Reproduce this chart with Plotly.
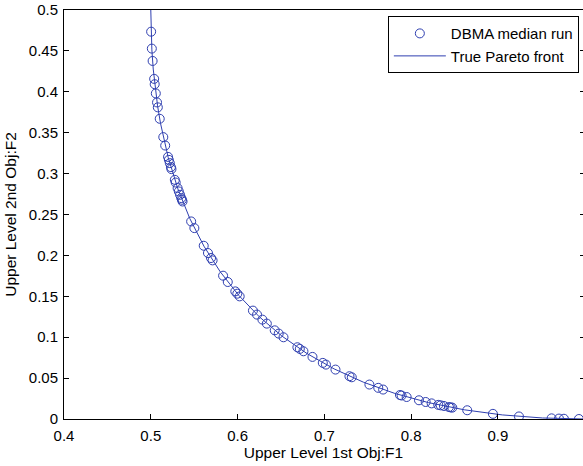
import plotly.graph_objects as go

# DBMA median run
dbma_f1 = [0.5004, 0.5012, 0.5021, 0.5039, 0.5045, 0.5058, 0.5072, 0.5081, 0.5103, 0.5144,
           0.5166, 0.5199, 0.5208, 0.5219, 0.5232, 0.5238, 0.5277, 0.5287, 0.5309, 0.5323,
           0.5337, 0.5351, 0.5359, 0.5366, 0.5465, 0.5502, 0.5610, 0.5659, 0.5694, 0.5712,
           0.5833, 0.5887, 0.5974, 0.5997, 0.6024, 0.6177, 0.6224, 0.6286, 0.6337, 0.6428,
           0.6474, 0.6529, 0.6689, 0.6717, 0.6759, 0.6863, 0.6982, 0.7018, 0.7128, 0.7289,
           0.7316, 0.7519, 0.7621, 0.7677, 0.7871, 0.7890, 0.7948, 0.8090, 0.8167, 0.8236,
           0.8312, 0.8340, 0.8378, 0.8435, 0.8455, 0.8474, 0.8646, 0.8942, 0.9242, 0.9618,
           0.9703, 0.9760, 0.9933]
dbma_f2 = [0.4735, 0.4528, 0.4377, 0.4158, 0.4093, 0.3980, 0.3870, 0.3810, 0.3670, 0.3446,
           0.3343, 0.3204, 0.3168, 0.3128, 0.3079, 0.3055, 0.2924, 0.2891, 0.2823, 0.2782,
           0.2741, 0.2701, 0.2680, 0.2659, 0.2415, 0.2334, 0.2118, 0.2029, 0.1968, 0.1939,
           0.1752, 0.1675, 0.1560, 0.1532, 0.1499, 0.1325, 0.1276, 0.1215, 0.1166, 0.1084,
           0.1044, 0.0999, 0.0877, 0.0857, 0.0828, 0.0759, 0.0686, 0.0665, 0.0604, 0.0523,
           0.0510, 0.0421, 0.0381, 0.0360, 0.0293, 0.0287, 0.0269, 0.0229, 0.0208, 0.0191,
           0.0173, 0.0167, 0.0159, 0.0146, 0.0142, 0.0139, 0.0107, 0.0063, 0.0031, 0.0008,
           0.0005, 0.0003, 0.0000]

# True Pareto front
front_f1 = [0.5, 0.5002, 0.50125, 0.50281, 0.505, 0.50781, 0.51125, 0.51531, 0.52, 0.53125,
            0.545, 0.56125, 0.58, 0.60125, 0.625, 0.65125, 0.68, 0.71125, 0.745, 0.78125,
            0.82, 0.86125, 0.905, 0.95125, 1.0]
front_f2 = [0.5, 0.4802, 0.45125, 0.42781, 0.405, 0.38281, 0.36125, 0.34031, 0.32, 0.28125,
            0.245, 0.21125, 0.18, 0.15125, 0.125, 0.10125, 0.08, 0.06125, 0.045, 0.03125,
            0.02, 0.01125, 0.005, 0.00125, 0.0]

x_ticks = [0.4, 0.5, 0.6, 0.7, 0.8, 0.9, 1.0]
x_ticktext = ["0.4", "0.5", "0.6", "0.7", "0.8", "0.9", "1"]
y_ticks = [0, 0.05, 0.1, 0.15, 0.2, 0.25, 0.3, 0.35, 0.4, 0.45, 0.5]
y_ticktext = ["0", "0.05", "0.1", "0.15", "0.2", "0.25", "0.3", "0.35", "0.4", "0.45", "0.5"]

blue = "#2f3fb0"
font = "Liberation Sans, Arial, sans-serif"

fig = go.Figure()
fig.add_trace(go.Scatter(x=dbma_f1, y=dbma_f2, mode="markers", name="DBMA median run",
                         marker=dict(symbol="circle-open", size=9, color=blue,
                                     line=dict(width=1, color=blue))))
fig.add_trace(go.Scatter(x=front_f1, y=front_f2, mode="lines", name="True Pareto front",
                         line=dict(color=blue, width=1)))
fig.add_trace(go.Scatter(x=[None], y=[None], yaxis="y2", showlegend=False, hoverinfo="skip"))

fig.update_layout(
    width=583, height=466,
    margin=dict(l=64, r=0, t=10, b=47),
    paper_bgcolor="white", plot_bgcolor="white",
    font=dict(family=font, size=15, color="black"),
    showlegend=True,
    legend=dict(x=0.992, y=0.985, xanchor="right", yanchor="top",
                bgcolor="white", bordercolor="black", borderwidth=1,
                font=dict(size=15), itemwidth=52, tracegroupgap=0,
                entrywidth=0, valign="middle"),
    xaxis=dict(range=[0.4, 0.998], tickvals=x_ticks, ticktext=x_ticktext,
               showgrid=False, zeroline=False, showline=True, linecolor="black",
               linewidth=1, mirror=True, ticks="inside", ticklen=5, tickcolor="black",
               ticklabelstandoff=3,
               title=dict(text="Upper Level 1st Obj:F1", font=dict(size=15.5), standoff=0)),
    yaxis=dict(range=[0, 0.5], tickvals=y_ticks, ticktext=y_ticktext,
               showgrid=False, zeroline=False, showline=True, linecolor="black",
               linewidth=1, mirror=False, ticks="inside", ticklen=5, tickcolor="black",
               ticklabelstandoff=2,
               title=dict(text="Upper Level 2nd Obj:F2", font=dict(size=15.5), standoff=8)),
    yaxis2=dict(range=[0, 0.5], overlaying="y", side="right", tickvals=y_ticks,
                showticklabels=False, showgrid=False, zeroline=False, showline=False,
                ticks="inside", ticklen=3, tickcolor="black"),
)

fig.write_html("out.html")
